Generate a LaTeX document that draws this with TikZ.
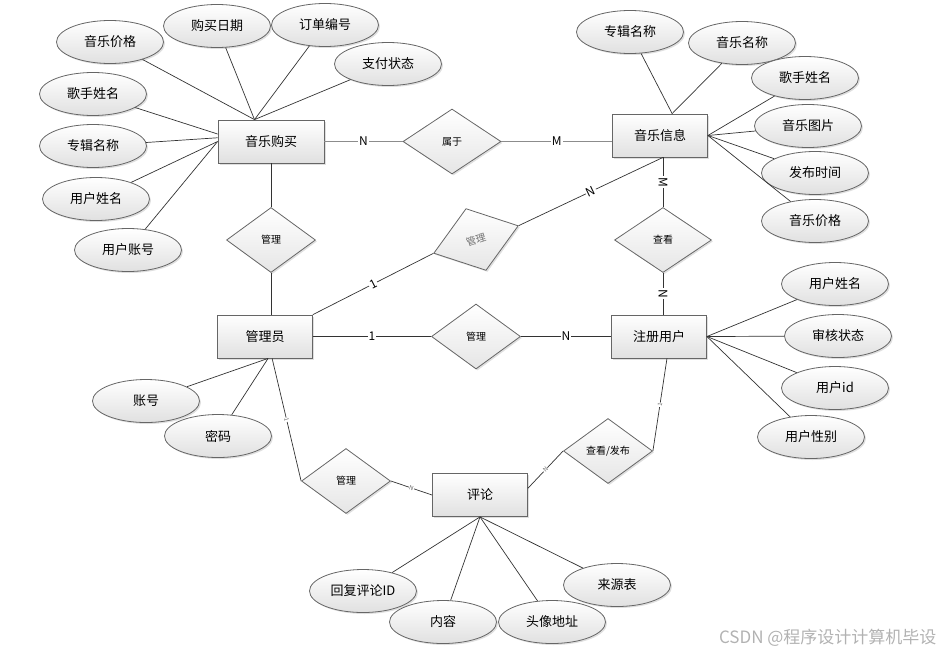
\documentclass[tikz,border=0pt]{standalone}
\usepackage{fontspec}
\setmainfont{Noto Sans CJK SC}
\usetikzlibrary{shapes.geometric,shadows}

\begin{document}
\begin{tikzpicture}[
    x=1pt, y=-1pt,
    entity/.style={rectangle, draw=black!60, line width=0.8pt, top color=white, bottom color=black!12,
        minimum width=95pt, minimum height=43pt, font=\fontsize{13}{15}\selectfont,
        drop shadow={shadow xshift=1.5pt, shadow yshift=-1.5pt, opacity=0.25}},
    attr/.style={ellipse, draw=black!60, line width=0.8pt, top color=white, bottom color=black!12,
        minimum width=107pt, minimum height=43pt, inner sep=0pt, font=\fontsize{13}{15}\selectfont,
        drop shadow={shadow xshift=1.5pt, shadow yshift=-1.5pt, opacity=0.25}},
    rel/.style={diamond, draw=black!60, line width=0.8pt, top color=white, bottom color=black!10,
        minimum width=89pt, minimum height=65pt, inner sep=0pt, font=\fontsize{10}{12}\selectfont,
        drop shadow={shadow xshift=1.5pt, shadow yshift=-1.5pt, opacity=0.25}},
    link/.style={draw=black!80, line width=0.7pt},
    mainlink/.style={draw=black!45, line width=1.4pt},
    card/.style={fill=white, inner sep=1pt, font=\fontsize{12}{14}\selectfont},
    tinycard/.style={fill=white, inner sep=0.5pt, text=black!60, font=\fontsize{6}{7}\selectfont, sloped}
]
    \useasboundingbox (0,0) rectangle (941,654);

    % entities
    \node[entity, minimum width=106pt] (mb) at (271,141.5) {音乐购买};
    \node[entity] (mi) at (660,135.5) {音乐信息};
    \node[entity] (gly) at (265,336.5) {管理员};
    \node[entity] (zc) at (659,336.5) {注册用户};
    \node[entity] (pl) at (480,495) {评论};

    % relations
    \node[rel, minimum width=98pt] (sy) at (452,141.5) {属于};
    \node[rel] (glm) at (271,240) {管理};
    \node[rel, rotate=18, text=black!55] (glr) at (476,239.5) {管理};
    \node[rel, minimum width=97pt] (ck) at (663,240) {查看};
    \node[rel] (glc) at (476,336.5) {管理};
    \node[rel] (glp) at (346,481) {管理};
    \node[rel] (ckfb) at (608,451) {查看/发布};

    % attributes of 音乐购买
    \node[attr] (mbjg) at (110,42) {音乐价格};
    \node[attr] (mbrq) at (217,26) {购买日期};
    \node[attr] (mbdd) at (325,25) {订单编号};
    \node[attr] (mbzf) at (388,64) {支付状态};
    \node[attr] (mbgs) at (93,94) {歌手姓名};
    \node[attr] (mbzj) at (93,146) {专辑名称};
    \node[attr] (mbyh) at (96,199) {用户姓名};
    \node[attr] (mbzh) at (128,250) {用户账号};

    % attributes of 音乐信息
    \node[attr] (mizj) at (630,32) {专辑名称};
    \node[attr] (mimc) at (742,43) {音乐名称};
    \node[attr] (migs) at (805,78) {歌手姓名};
    \node[attr] (mitp) at (808,126) {音乐图片};
    \node[attr] (misj) at (815,173) {发布时间};
    \node[attr] (mijg) at (815,221) {音乐价格};

    % attributes of 注册用户
    \node[attr] (zcxm) at (835,284) {用户姓名};
    \node[attr] (zcsh) at (838,336) {审核状态};
    \node[attr] (zcid) at (835,388) {用户id};
    \node[attr] (zcxb) at (811,437) {用户性别};

    % attributes of 管理员
    \node[attr] (glzh) at (146,401) {账号};
    \node[attr] (glmm) at (218,436) {密码};

    % attributes of 评论
    \node[attr] (plhf) at (363,591) {回复评论ID};
    \node[attr] (plnr) at (443,622) {内容};
    \node[attr] (pltx) at (552,622) {头像地址};
    \node[attr] (plly) at (617,585) {来源表};

    % attribute links
    \foreach \a in {mbjg,mbrq,mbdd,mbzf}
        \draw[link] (\a) -- (mb.127);
    \draw[link] (mbgs) -- (mb.172);
    \draw[link] (mbzj) -- (mb.176);
    \draw[link] (mbyh) -- (mb.west);
    \draw[link] (mbzh) -- (mb.west);
    \foreach \a in {mizj,mimc}
        \draw[link] (\a) -- (mi.61);
    \foreach \a in {migs,mitp,misj,mijg}
        \draw[link] (\a) -- (mi.east);
    \foreach \a in {zcxm,zcsh,zcid,zcxb}
        \draw[link] (\a) -- (zc.east);
    \foreach \a in {glzh,glmm}
        \draw[link] (\a) -- (gly.278);
    \foreach \a in {plhf,plnr,pltx,plly}
        \draw[link] (\a) -- (pl.south);

    % relation links
    \draw[mainlink] (mb) -- node[card] {N} (sy);
    \draw[mainlink] (sy.east) -- node[card] {M} (sy.east -| mi.west);
    \draw[link] (mb) -- (glm);
    \draw[link] (glm.south) -- (glm.south |- gly.north);
    \draw[link] (mi.south -| ck.north) -- node[card, sloped] {M} (ck.north);
    \draw[link] (ck.south) -- node[card, sloped] {N} (ck.south |- zc.north);
    \draw[link] (mi.south -| ck.north) -- node[card, sloped] {N} (glr.east);
    \draw[link] (glr.west) -- node[card, sloped] {1} (gly.north east);
    \draw[link] (gly) -- node[card] {1} (glc);
    \draw[link] (glc) -- node[card] {N} (zc);
    \draw[link] (gly.288) -- node[tinycard] {1} (glp.west);
    \draw[link] (glp.east) -- node[tinycard] {N} (pl.west);
    \draw[link] (pl.8) -- node[tinycard] {N} (ckfb.west);
    \draw[link] (ckfb.east) -- node[tinycard] {1} (zc.290);

    \node[anchor=east, text=black!30, font=\fontsize{17}{19}\selectfont] (wm) at (940,638) {CSDN @程序设计计算机毕设};
\end{tikzpicture}
\end{document}
